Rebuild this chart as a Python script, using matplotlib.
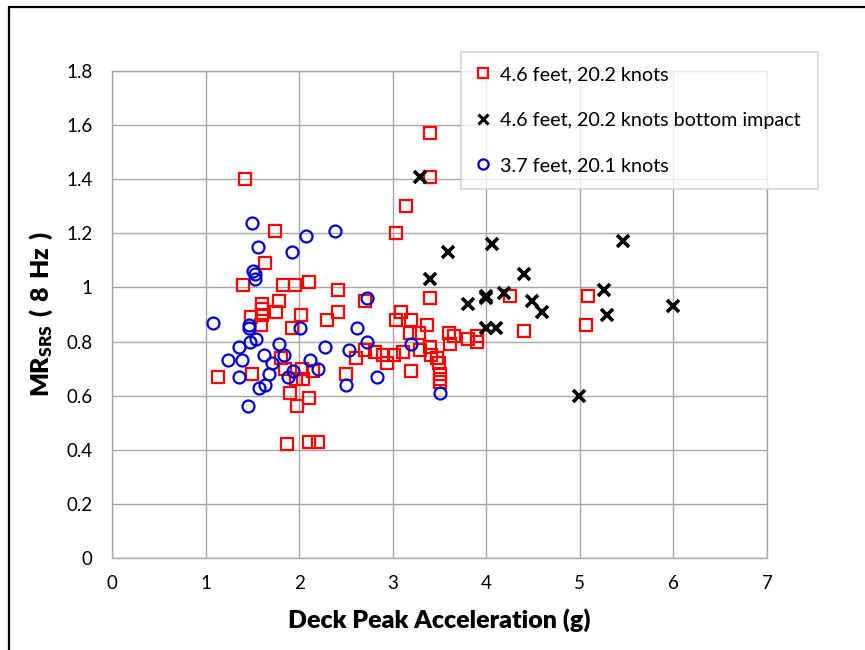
import matplotlib.pyplot as plt
from matplotlib.patches import Rectangle

plt.rcParams["font.family"] = ["Lato", "DejaVu Sans"]
plt.rcParams["mathtext.fontset"] = "custom"
plt.rcParams["mathtext.rm"] = "Lato"
plt.rcParams["mathtext.bf"] = "Lato:weight=heavy"

# 4.6 feet, 20.2 knots
sq_x = [1.13, 1.42, 1.40, 1.50, 1.49, 1.60, 1.60, 1.60, 1.59, 1.64,
        1.74, 1.75, 1.79, 1.83, 1.81, 1.85, 1.87, 1.90, 1.92, 1.96,
        1.97, 1.98, 2.02, 2.03, 2.04, 2.10, 2.10, 2.11, 2.15, 2.20,
        2.30, 2.41, 2.41, 2.50, 2.61, 2.70, 2.70, 2.81, 2.90, 2.94,
        3.01, 3.04, 3.04, 3.09, 3.11, 3.14, 3.20, 3.19, 3.20, 3.28,
        3.29, 3.37, 3.40, 3.40, 3.40, 3.40, 3.41, 3.47, 3.49, 3.51,
        3.51, 3.51, 3.60, 3.61, 3.66, 3.80, 3.90, 3.90, 4.25, 4.40,
        5.07, 5.09]
sq_y = [0.67, 1.40, 1.01, 0.68, 0.89, 0.94, 0.92, 0.90, 0.86, 1.09,
        1.21, 0.91, 0.95, 1.01, 0.74, 0.70, 0.42, 0.61, 0.85, 1.01,
        0.66, 0.56, 0.90, 0.70, 0.66, 0.59, 0.43, 1.02, 0.69, 0.43,
        0.88, 0.91, 0.99, 0.68, 0.74, 0.95, 0.77, 0.76, 0.75, 0.72,
        0.75, 1.20, 0.88, 0.91, 0.76, 1.30, 0.88, 0.83, 0.69, 0.83,
        0.77, 0.86, 1.57, 1.41, 0.96, 0.78, 0.75, 0.74, 0.72, 0.68,
        0.66, 0.65, 0.83, 0.79, 0.82, 0.81, 0.82, 0.80, 0.97, 0.84,
        0.86, 0.97]

# 4.6 feet, 20.2 knots bottom impact
bi_x = [3.29, 3.40, 3.59, 3.80, 4.00, 4.00, 4.00, 4.06, 4.10, 4.19,
        4.40, 4.49, 4.60, 4.99, 5.26, 5.29, 5.46, 6.00]
bi_y = [1.41, 1.03, 1.13, 0.94, 0.97, 0.96, 0.85, 1.16, 0.85, 0.98,
        1.05, 0.95, 0.91, 0.60, 0.99, 0.90, 1.17, 0.93]

# 3.7 feet, 20.1 knots
ci_x = [1.08, 1.24, 1.36, 1.39, 1.36, 1.45, 1.46, 1.46, 1.48, 1.50,
        1.51, 1.53, 1.53, 1.54, 1.56, 1.57, 1.62, 1.64, 1.68, 1.71,
        1.78, 1.84, 1.88, 1.92, 1.93, 2.01, 2.07, 2.12, 2.20, 2.28,
        2.38, 2.50, 2.53, 2.62, 2.73, 2.73, 2.83, 3.20, 3.51]
ci_y = [0.87, 0.73, 0.78, 0.73, 0.67, 0.56, 0.86, 0.85, 0.80, 1.24,
        1.06, 1.05, 1.03, 0.81, 1.15, 0.63, 0.75, 0.64, 0.68, 0.72,
        0.79, 0.75, 0.67, 1.13, 0.69, 0.85, 1.19, 0.73, 0.70, 0.78,
        1.21, 0.64, 0.77, 0.85, 0.96, 0.80, 0.67, 0.79, 0.61]

labels = ["4.6 feet, 20.2 knots",
          "4.6 feet, 20.2 knots bottom impact",
          "3.7 feet, 20.1 knots"]

W, H = 865, 650
fig = plt.figure(figsize=(W / 100, H / 100), dpi=100)
ax = fig.add_axes([112 / W, 1 - 558 / H, (767 - 112) / W, (558 - 71) / H])

ax.plot(sq_x, sq_y, ls="none", marker="s", ms=8.3, mfc="none",
        mec="#ff0000", mew=1.6, label=labels[0])
ax.plot(bi_x, bi_y, ls="none", marker="x", ms=8, mec="black",
        mew=2.6, label=labels[1])
ax.plot(ci_x, ci_y, ls="none", marker="o", ms=8.6, mfc="none",
        mec="#0000cc", mew=1.6, label=labels[2])

ax.set_xlim(0, 7)
ax.set_ylim(0, 1.8)
ax.set_xticks(range(8))
ax.set_yticks([0, 0.2, 0.4, 0.6, 0.8, 1.0, 1.2, 1.4, 1.6, 1.8])
ax.set_yticklabels(["0", "0.2", "0.4", "0.6", "0.8", "1", "1.2", "1.4",
                    "1.6", "1.8"])
ax.grid(True, color="#a6a6a6", lw=1)
ax.set_axisbelow(True)
for s in ax.spines.values():
    s.set_color("#a6a6a6")
    s.set_linewidth(1)
ax.tick_params(length=0, labelsize=13.5, pad=14, colors="black")
ax.tick_params(axis="x", pad=12)

ax.set_xlabel("Deck Peak Acceleration (g)", fontsize=18,
              fontweight="heavy", labelpad=12)
ax.set_ylabel(r"$\mathbf{MR_{SRS}\ (\ 8\ Hz\ )}$", fontsize=18,
              labelpad=8)

leg = fig.legend(loc="upper left",
                 bbox_to_anchor=(461 / W, 1 - 188 / H, 357 / W, 136 / H),
                 bbox_transform=fig.transFigure, mode="expand",
                 fontsize=14.2, frameon=True, fancybox=False,
                 borderpad=0.72, labelspacing=1.45, handlelength=0.8,
                 handletextpad=0.45, borderaxespad=0, markerscale=0.85)
leg.get_frame().set_edgecolor("#c8c8c8")
leg.get_frame().set_linewidth(1.2)
leg.legend_handles[1].set_markeredgewidth(2.2)

# outer chart frame
fig.patches.append(Rectangle((9 / W, -0.1), 1.2, 1.1 - 7 / H,
                             transform=fig.transFigure, fill=False,
                             edgecolor="black", lw=1.6))

fig.savefig("out.png", dpi=100)
